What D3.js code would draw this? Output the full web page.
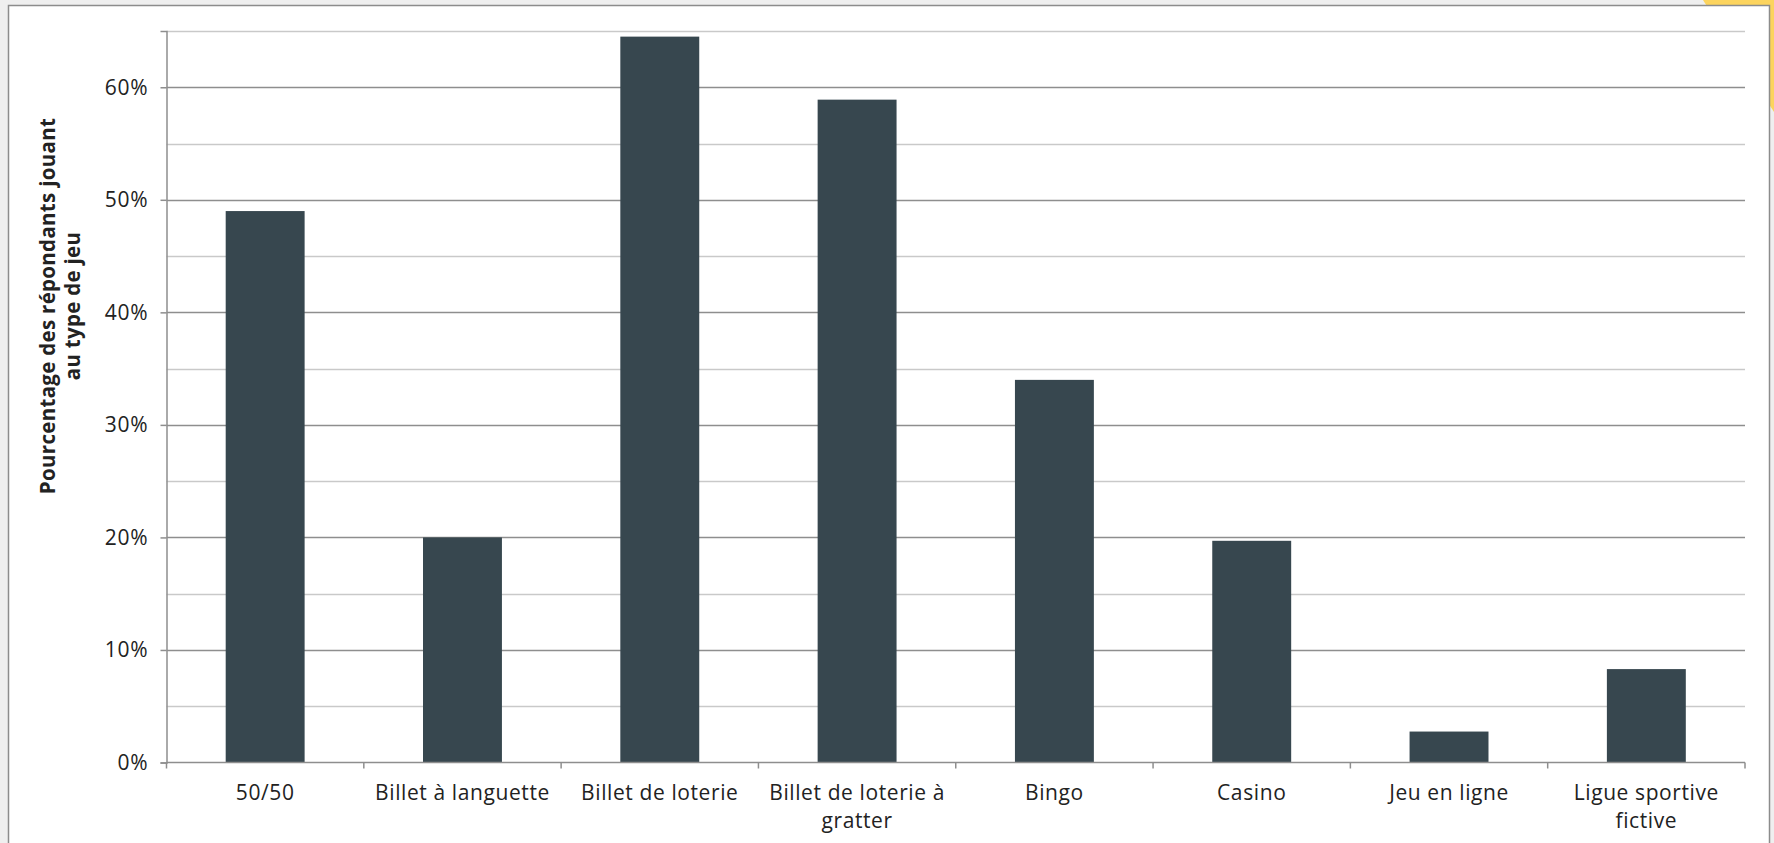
<!DOCTYPE html>
<html>
<head>
<meta charset="utf-8">
<script src="https://cdn.jsdelivr.net/npm/d3@7"></script>
<style>
  html, body { margin: 0; padding: 0; background: #efefef; }
  svg { display: block; }
  text { font-family: "Open Sans", Lato, sans-serif; fill: #222; }
</style>
</head>
<body>
<svg id="chart" width="1774" height="843"></svg>
<script>
const categories = [
  "50/50",
  "Billet à languette",
  "Billet de loterie",
  "Billet de loterie à\ngratter",
  "Bingo",
  "Casino",
  "Jeu en ligne",
  "Ligue sportive\nfictive"
];
const values = [49.0, 20.0, 64.5, 58.9, 34.0, 19.7, 2.75, 8.3];
const yTicks = [0, 10, 20, 30, 40, 50, 60];
const gridLevels = [5, 10, 15, 20, 25, 30, 35, 40, 45, 50, 55, 60, 65];
const yTitleLines = ["Pourcentage des répondants jouant", "au type de jeu"];

(function () {
const svg = d3.select("#chart");
const W = 1774, H = 843;

svg.append("rect").attr("x", 0).attr("y", 0).attr("width", W).attr("height", H).attr("fill", "#efefef");
svg.append("polygon").attr("points", "1703,0 1774,0 1774,112").attr("fill", "#fcd45e");
svg.append("rect").attr("x", 8.5).attr("y", 5.5).attr("width", 1761).attr("height", 860)
  .attr("fill", "#ffffff").attr("stroke", "#8c8c8c").attr("stroke-width", 1.5);

const pLeft = 166.5, pRight = 1745, pTop = 31, pBottom = 762.5;

const x = d3.scaleBand().domain(categories).range([pLeft, pRight]).paddingInner(0.6).paddingOuter(0.3);
const y = d3.scaleLinear().domain([0, 65]).range([pBottom, pTop]);

// gridlines
svg.append("g").selectAll("line").data(gridLevels).join("line")
  .attr("x1", pLeft).attr("x2", pRight)
  .attr("y1", d => Math.round(y(d)) + 0.5).attr("y2", d => Math.round(y(d)) + 0.5)
  .attr("stroke", d => d % 10 === 0 ? "#8e8e8e" : "#c9c9c9")
  .attr("stroke-width", 1.5);

// bars
svg.append("g").selectAll("rect").data(values).join("rect")
  .attr("x", (d, i) => x(categories[i]))
  .attr("width", x.bandwidth())
  .attr("y", d => y(d))
  .attr("height", d => y(0) - y(d))
  .attr("fill", "#37474f");

// y axis
const yAxis = d3.axisLeft(y).tickValues(yTicks).tickSize(6).tickPadding(12).tickFormat(d => d + "%");
const gy = svg.append("g").attr("transform", `translate(${pLeft},0)`).call(yAxis);
gy.select(".domain").attr("stroke", "#8e8e8e").attr("stroke-width", 1.5);
gy.selectAll(".tick line").attr("stroke", "#8e8e8e").attr("stroke-width", 1.5);
gy.selectAll(".tick text").attr("font-size", 21).attr("fill", "#222")
  .attr("letter-spacing", 0.8)
  .attr("font-family", "'Open Sans', Lato, sans-serif");

// x axis: baseline + boundary ticks
const step = x.step();
const boundaries = d3.range(categories.length + 1).map(i => pLeft + i * step);
svg.append("line").attr("x1", pLeft).attr("x2", pRight).attr("y1", pBottom).attr("y2", pBottom)
  .attr("stroke", "#8e8e8e").attr("stroke-width", 1.5);
svg.append("g").selectAll("line").data(boundaries).join("line")
  .attr("x1", d => d).attr("x2", d => d).attr("y1", pBottom).attr("y2", pBottom + 6)
  .attr("stroke", "#8e8e8e").attr("stroke-width", 1.5);

// x labels
const xl = svg.append("g").selectAll("text").data(categories).join("text")
  .attr("text-anchor", "middle")
  .attr("font-size", 21)
  .attr("letter-spacing", 0.6)
  .attr("x", d => x(d) + x.bandwidth() / 2)
  .attr("y", 800);
xl.each(function(d) {
  const lines = d.split("\n");
  const t = d3.select(this);
  lines.forEach((l, i) => {
    t.append("tspan").attr("x", x(d) + x.bandwidth() / 2).attr("dy", i === 0 ? 0 : 28).text(l);
  });
});

// y title
const yt = svg.append("text")
  .attr("transform", "translate(0,306) rotate(-90)")
  .attr("text-anchor", "middle")
  .attr("font-size", 20.5)
  .attr("letter-spacing", 0.3)
  .attr("font-weight", "bold");
yTitleLines.forEach((l, i) => {
  yt.append("tspan").attr("x", 0).attr("y", 55 + i * 25).text(l);
});
})();
</script>
</body>
</html>
